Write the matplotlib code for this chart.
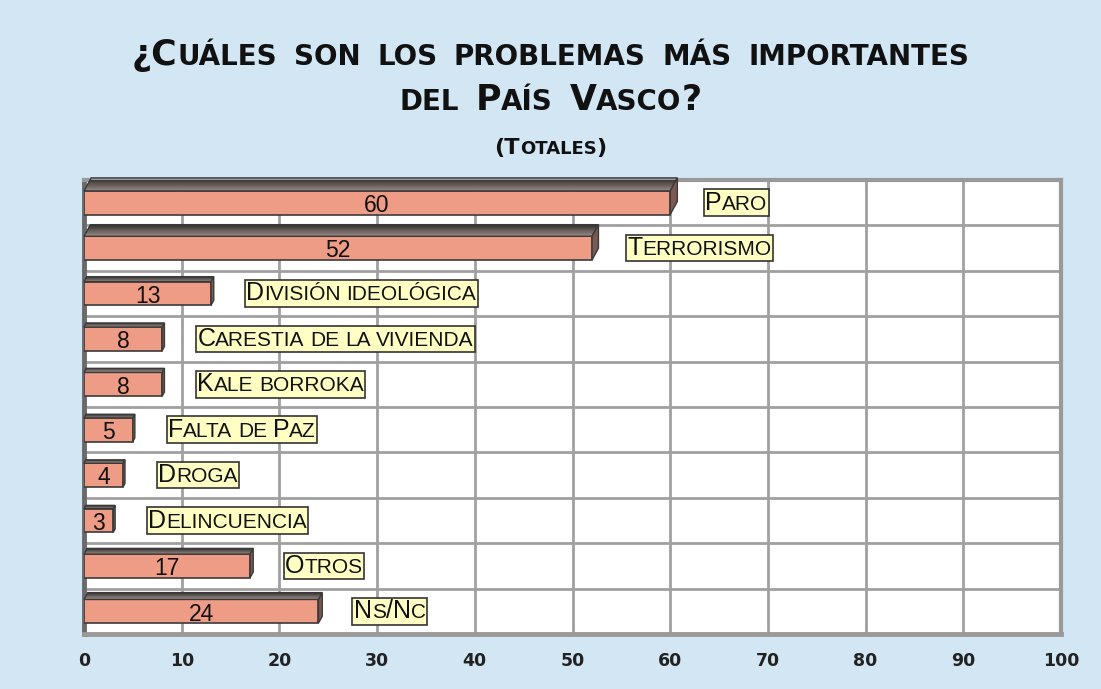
import numpy as np
import matplotlib
matplotlib.use("Agg")
import matplotlib.pyplot as plt
from matplotlib.patches import Polygon
from matplotlib.offsetbox import TextArea, HPacker, AnnotationBbox

# DATA
categories = ["Paro", "Terrorismo", "División ideológica", "Carestia de la vivienda",
              "Kale borroka", "Falta de Paz", "Droga", "Delincuencia", "Otros", "Ns/Nc"]
values = [60, 52, 13, 8, 8, 5, 4, 3, 17, 24]
xticks = np.arange(0, 101, 10)
title_lines = ["¿Cuáles son los problemas más importantes", "del País Vasco?"]
subtitle = "(Totales)"

# STYLE
BG = "#d2e6f4"
BAR = "#ee9c86"
EDGE = "#3a3a3a"
BOXFACE = "#ffffc4"
GRID = "#a0a0a0"
LABEL_FONT = ["Liberation Sans Narrow", "Liberation Sans", "DejaVu Sans"]
TITLE_FONT = ["DejaVu Sans"]

W, H, DPI = 1101, 689, 100
left_px, right_px, top_px, bottom_px = 84, 1061, 180, 634
bar_h = 0.52
label_gap = 3.6


def smallcaps(text, big, small, family, weight="normal", space=4.0):
  words = []
  for word in text.split(" "):
    runs = []
    for ch in word:
      size = small if ch.islower() else big
      if runs and runs[-1][1] == size:
        runs[-1][0] += ch
      else:
        runs.append([ch, size])
    kids = [TextArea(r.upper(), textprops=dict(fontsize=s, family=family, color="#111111",
                                                 weight=weight)) for r, s in runs]
    words.append(HPacker(children=kids, align="baseline", pad=0, sep=0))
  return HPacker(children=words, align="baseline", pad=0, sep=space)


fig = plt.figure(figsize=(W / DPI, H / DPI), dpi=DPI, facecolor=BG)
ax = fig.add_axes([left_px / W, 1 - bottom_px / H, (right_px - left_px) / W, (bottom_px - top_px) / H])
ax.set_facecolor("white")

n = len(categories)
ypos = np.arange(n)
px_x = (xticks[-1] - xticks[0]) / (right_px - left_px)
px_y = n / (bottom_px - top_px)

# front faces
ax.barh(ypos, values, height=bar_h, color=BAR, edgecolor=EDGE, linewidth=1.2, zorder=3)

grad = np.linspace(0, 1, 64)[:, None, None]
back_col = np.array([0.16, 0.16, 0.16])
front_col = np.array([0.60, 0.54, 0.52])
grad_img = back_col + (front_col - back_col) * grad

for i, v in enumerate(values):
  # the 3-D depth grows with the bar length in the original
  depth = 2.8 + 0.17 * v
  dy = depth * px_y
  dx = 0.55 * depth * px_x
  y0 = i - bar_h / 2
  y1 = i + bar_h / 2
  top = Polygon([(0, y0), (v, y0), (v + dx, y0 - dy), (dx, y0 - dy)], closed=True,
                facecolor="none", edgecolor=EDGE, linewidth=1.0, zorder=4, clip_on=False)
  ax.add_patch(top)
  im = ax.imshow(grad_img, extent=(0, v + dx, y0, y0 - dy), origin="upper",
                 aspect="auto", zorder=3, interpolation="bilinear")
  im.set_clip_path(top)
  side = Polygon([(v, y0), (v + dx, y0 - dy), (v + dx, y1 - dy), (v, y1)], closed=True,
                 facecolor="#7a5a52", edgecolor=EDGE, linewidth=1.0, zorder=4, clip_on=False)
  ax.add_patch(side)
  ax.text(v / 2, i + 0.06, str(v), ha="center", va="center", fontsize=16.5,
          family=["Liberation Sans", "DejaVu Sans"], color="#111111", zorder=5)
  box = smallcaps(categories[i], 18, 15, LABEL_FONT, space=4)
  ab = AnnotationBbox(box, (v + label_gap, i), box_alignment=(0, 0.5), frameon=True,
                      pad=0.15, zorder=6,
                      bboxprops=dict(facecolor=BOXFACE, edgecolor="#333333", linewidth=1.2,
                                     boxstyle="square,pad=0.1"))
  ax.add_artist(ab)

ax.set_xlim(xticks[0], xticks[-1])
ax.set_ylim(n - 0.5, -0.5)
ax.set_xticks(xticks)
ax.set_xticklabels([str(t) for t in xticks], fontsize=12.5, weight="bold",
                   family=TITLE_FONT, color="#222222")
ax.set_yticks(np.arange(n - 1) + 0.5)
ax.set_yticklabels([])
ax.tick_params(axis="both", length=0)
ax.tick_params(axis="x", pad=13)
ax.grid(True, color=GRID, linewidth=2, zorder=1)
ax.set_axisbelow(True)

for s in ["top", "right"]:
  ax.spines[s].set_color("#999999")
  ax.spines[s].set_linewidth(3)
ax.spines["left"].set_color("#6a6a6a")
ax.spines["left"].set_linewidth(3.5)
ax.spines["bottom"].set_color("#999999")
ax.spines["bottom"].set_linewidth(3.5)

# titles
title_y = [1 - 55 / H, 1 - 100 / H]
for line, y in zip(title_lines, title_y):
  tb = smallcaps(line, 25, 20, TITLE_FONT, weight="bold", space=12)
  fig.add_artist(AnnotationBbox(tb, (0.5, y), xycoords="figure fraction",
                                box_alignment=(0.5, 0.5), frameon=False))
sb = smallcaps(subtitle, 16, 13, TITLE_FONT, weight="bold", space=5)
fig.add_artist(AnnotationBbox(sb, (0.5, 1 - 148 / H), xycoords="figure fraction",
                              box_alignment=(0.5, 0.5), frameon=False))

fig.savefig("out.png", dpi=DPI, facecolor=BG)
